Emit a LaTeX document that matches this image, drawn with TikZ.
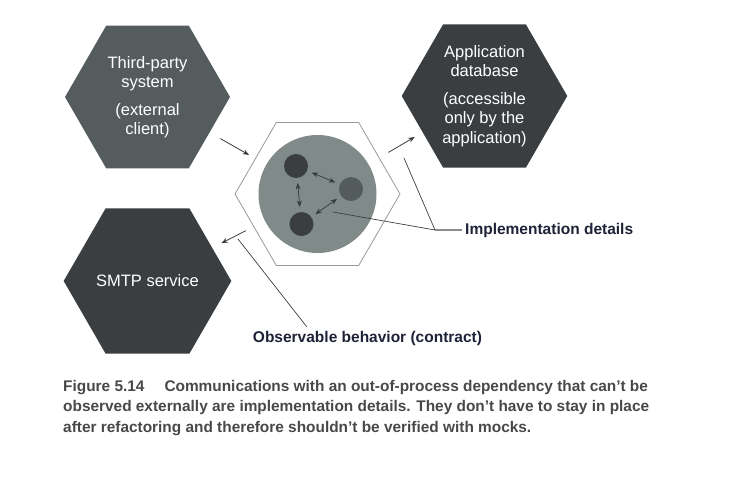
\documentclass[tikz,border=0pt]{standalone}
\usepackage{fontspec}
\setmainfont{Liberation Sans}
\usetikzlibrary{arrows.meta,positioning,shapes.geometric}
\definecolor{hexgray}{HTML}{555C5D}
\definecolor{hexdark}{HTML}{3A3E41}
\definecolor{ringgray}{HTML}{929C97}
\definecolor{poolgray}{HTML}{808B89}
\definecolor{dotgray}{HTML}{535B5B}
\definecolor{inkblue}{HTML}{1E2236}
\definecolor{capgray}{HTML}{48484B}
\definecolor{leadgray}{HTML}{8C8C8C}

\begin{document}
\begin{tikzpicture}[x=1pt,y=-1pt,>={Stealth[length=6.5pt,width=5pt]},on grid,
    hex node/.style={regular polygon,regular polygon sides=6,minimum size=165pt,
      inner sep=0pt,outer sep=0pt,text=white,align=center,
      font=\fontsize{16.5}{19.5}\selectfont},
    dot node/.style={circle,minimum size=24pt,inner sep=0pt,outer sep=0pt,fill=hexdark},
    note node/.style={font=\bfseries\fontsize{15.5}{18}\selectfont,text=inkblue,inner sep=0pt},
    link/.style={->,line width=0.8pt,draw=hexdark}]
    \useasboundingbox (0,0) rectangle (752,480);
    % the four hexagons
    \node[hex node,fill=hexgray] (tp) at (147.5,97) {Third-party\\system\\[8pt](external\\client)};
    \node[hex node,fill=hexdark] (smtp) [below=184pt of tp] {SMTP service};
    \node[hex node,draw=ringgray,line width=0.8pt] (core) [below right=97pt and 170pt of tp] {};
    \node[hex node,fill=hexdark] (db) [above right=98pt and 167pt of core] {Application\\database\\[8pt](accessible\\only by the\\application)};
    % the application inside
    \node[circle,fill=poolgray,minimum size=118pt,inner sep=0pt] (pool) at (core) {};
    \node[dot node] (c1) [above left=28pt and 21.5pt of pool] {};
    \node[dot node] (c2) [below left=30pt and 16pt of pool] {};
    \node[dot node,fill=dotgray] (c3) [above right=5pt and 33.5pt of pool] {};
    \path[<->,line width=0.8pt,draw=hexdark,shorten <=5pt,shorten >=5pt]
    (c1) edge (c3)
    (c1) edge (c2)
    (c2) edge (c3);
    \draw[link,shorten <=12.4pt,shorten >=7.3pt] (tp) -- (core);
    \draw[link,shorten <=10.7pt,shorten >=9.2pt] (core) -- (db);
    \draw[link,shorten <=8.9pt,shorten >=10.2pt] (core) -- (smtp);
    % labels
    \node[note node,anchor=west] (impl) at (465,230) {Implementation details};
    \node[note node] (obs) at (367.5,338) {Observable behavior (contract)};
    \coordinate (d1) at (333,212);
    \coordinate (d2) at (404,158);
    \coordinate (d3) at (435,230);
    \coordinate (o1) at (238,239);
    \draw[line width=0.7pt,draw=hexdark] (d1) -- (d3) -- (d2);
    \draw[line width=1.2pt,draw=leadgray,shorten >=3pt] (d3) -- (impl.west);
    \draw[line width=0.7pt,draw=hexdark,shorten >=5pt] (o1) -- ([xshift=57pt]obs.north west);
    % caption
    \node[anchor=north west,align=left,inner sep=0pt,text=capgray,
      font=\bfseries\fontsize{15.4}{20.5}\selectfont] (cap) at (63,380)
    {Figure 5.14\hspace{20pt}Communications with an out-of-process dependency that can't be\\
     observed externally are implementation details. They don't have to stay in place\\
     after refactoring and therefore shouldn't be verified with mocks.};
\end{tikzpicture}
\end{document}
